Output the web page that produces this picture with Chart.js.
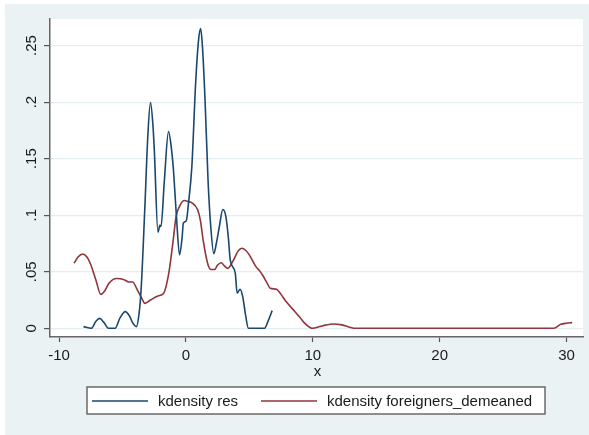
<!DOCTYPE html>
<html>
<head>
<meta charset="utf-8">
<script src="https://cdn.jsdelivr.net/npm/chart.js@4/dist/chart.umd.min.js"></script>
<style>
  html, body { margin: 0; padding: 0; background: #ffffff; }
  #wrap { width: 589px; height: 435px; }
</style>
</head>
<body>
<div id="wrap"><canvas id="kdens" width="589" height="435"></canvas></div>
<script>
// kdensity res
const resX = [-8.07,-7.45,-7.1,-6.8,-6.45,-6.1,-5.58,-5.2,-4.78,-4.45,-4.2,-3.9,-3.7,-3.53,-3.23,-3.0,-2.79,-2.6,-2.49,-2.2,-2.05,-1.96,-1.7,-1.37,-1.15,-1.0,-0.75,-0.5,-0.3,-0.2,0.03,0.2,0.47,0.77,1.0,1.16,1.3,1.51,1.75,1.96,2.2,2.4,2.64,2.91,3.15,3.35,3.5,3.89,4.04,4.27,4.48,4.7,4.93,6.2,6.5,6.8];
const resY = [0.0015,0,0.006,0.0088,0.005,0,0,0.009,0.0147,0.011,0.005,0.0015,0.012,0.034,0.108,0.17,0.1996,0.18,0.158,0.085,0.091,0.09,0.13,0.174,0.16,0.143,0.1,0.065,0.08,0.093,0.095,0.11,0.143,0.217,0.255,0.265,0.25,0.202,0.13,0.09,0.066,0.075,0.09,0.105,0.099,0.08,0.06,0.049,0.031,0.0345,0.028,0.012,0,0,0.007,0.0156];

// kdensity foreigners_demeaned
const forX = [-8.81,-8.5,-8.13,-7.8,-7.54,-7.1,-6.71,-6.4,-6.05,-5.46,-4.87,-4.5,-4.2,-3.83,-3.5,-3.23,-2.79,-2.2,-1.75,-1.5,-1.3,-1.0,-0.77,-0.45,-0.12,0.2,0.47,0.92,1.15,1.36,1.75,2.0,2.26,2.5,2.79,3.05,3.29,3.74,4.1,4.42,4.7,4.93,5.2,5.52,5.8,6.1,6.4,6.65,7.15,7.5,7.9,8.6,9.0,9.38,9.97,10.56,11.0,11.6,12.3,12.9,13.4,29.0,29.55,30.0,30.45];
const forY = [0.0575,0.063,0.0657,0.063,0.0575,0.043,0.030,0.033,0.040,0.044,0.043,0.041,0.041,0.034,0.027,0.022,0.025,0.0286,0.031,0.04,0.052,0.078,0.099,0.109,0.113,0.112,0.111,0.105,0.095,0.078,0.056,0.052,0.052,0.056,0.058,0.055,0.053,0.060,0.068,0.0708,0.069,0.066,0.061,0.0545,0.051,0.046,0.040,0.0354,0.0345,0.030,0.0236,0.0147,0.0095,0.0044,0,0.0015,0.0028,0.0038,0.003,0.001,0,0,0.0035,0.0045,0.005];

const xTicks = [-10, 0, 10, 20, 30];
const yTicks = [0, 0.05, 0.1, 0.15, 0.2, 0.25];
const yTickLabels = ["0", ".05", ".1", ".15", ".2", ".25"];
const seriesNames = ["kdensity res", "kdensity foreigners_demeaned"];
const xTitle = "x";

const BLUE = "#1a476f";
const RED = "#90353b";
const BG = "#eaf2f3";
const FONT = "'Liberation Sans', Arial, sans-serif";

function toPoints(xs, ys) {
    let pts = [];
    for (let i = 0; i < xs.length; i++) pts.push({x: xs[i], y: ys[i]});
    return pts;
}

// background, white plot region, rotated y labels, x title, legend box
const stataLook = {
    id: "stataLook",
    beforeDraw(chart) {
        const ctx = chart.ctx;
        const a = chart.chartArea;
        ctx.save();
        ctx.fillStyle = "#ffffff";
        ctx.fillRect(0, 0, chart.width, chart.height);
        ctx.fillStyle = BG;
        ctx.fillRect(5, 4, chart.width - 5, chart.height - 4);
        ctx.fillStyle = "#ffffff";
        ctx.fillRect(a.left, a.top, a.right - a.left, a.bottom - a.top);
        ctx.restore();
    },
    afterDraw(chart) {
        const ctx = chart.ctx;
        const ys = chart.scales.y;
        const a = chart.chartArea;
        ctx.save();
        ctx.fillStyle = "#1a1a1a";
        ctx.font = "15px " + FONT;
        ctx.textAlign = "center";
        ctx.textBaseline = "middle";
        for (let i = 0; i < yTicks.length; i++) {
            const py = ys.getPixelForValue(yTicks[i]);
            ctx.save();
            ctx.translate(32, py);
            ctx.rotate(-Math.PI / 2);
            ctx.fillText(yTickLabels[i], 0, 0);
            ctx.restore();
        }
        // x title
        ctx.fillText(xTitle, (a.left + a.right) / 2 + 1, 372);

        // legend
        ctx.fillStyle = "#ffffff";
        ctx.fillRect(87, 387, 458, 27);
        ctx.strokeStyle = "#6a6a6a";
        ctx.lineWidth = 1.5;
        ctx.strokeRect(87, 387, 458, 27);
        const ly = 401;
        const items = [
            {x0: 92, x1: 148, tx: 158, color: BLUE, label: seriesNames[0]},
            {x0: 261, x1: 317, tx: 327, color: RED, label: seriesNames[1]}
        ];
        items.forEach(function (it) {
            ctx.strokeStyle = it.color;
            ctx.lineWidth = 1.5;
            ctx.beginPath();
            ctx.moveTo(it.x0, ly);
            ctx.lineTo(it.x1, ly);
            ctx.stroke();
            ctx.fillStyle = "#1a1a1a";
            ctx.textAlign = "left";
            ctx.fillText(it.label, it.tx, ly + 0.5);
        });
        ctx.restore();
    }
};

new Chart(document.getElementById("kdens"), {
    type: "scatter",
    data: {
        datasets: [
            {
                label: seriesNames[0],
                data: toPoints(resX, resY),
                showLine: true,
                borderColor: BLUE,
                borderWidth: 1.6,
                pointRadius: 0,
                cubicInterpolationMode: "monotone"
            },
            {
                label: seriesNames[1],
                data: toPoints(forX, forY),
                showLine: true,
                borderColor: RED,
                borderWidth: 1.6,
                pointRadius: 0,
                cubicInterpolationMode: "monotone"
            }
        ]
    },
    options: {
        responsive: false,
        animation: false,
        layout: { padding: { top: 19, right: 6, left: 0, bottom: 0 } },
        plugins: {
            legend: { display: false },
            tooltip: { enabled: false }
        },
        scales: {
            x: {
                type: "linear",
                min: -10.71,
                max: 31.3,
                afterBuildTicks: function (scale) {
                    scale.ticks = xTicks.map(v => ({value: v}));
                },
                afterFit: function (scale) { scale.height = 98; },
                grid: {
                    drawOnChartArea: false,
                    drawTicks: true,
                    tickLength: 5,
                    tickColor: "#555555",
                    tickWidth: 1.2
                },
                border: { display: true, color: "#666666", width: 1.5 },
                ticks: {
                    color: "#1a1a1a",
                    font: { family: FONT, size: 15 },
                    padding: 5,
                    maxRotation: 0,
                    callback: v => String(v)
                }
            },
            y: {
                type: "linear",
                min: -0.0077,
                max: 0.2735,
                afterBuildTicks: function (scale) {
                    scale.ticks = yTicks.map(v => ({value: v}));
                },
                afterFit: function (scale) { scale.width = 50; },
                grid: {
                    color: "#e4eef0",
                    lineWidth: 1.2,
                    drawTicks: true,
                    tickLength: 6,
                    tickColor: "#555555",
                    tickWidth: 1.2
                },
                border: { display: true, color: "#666666", width: 1.5 },
                ticks: { display: false }
            }
        }
    },
    plugins: [stataLook]
});
</script>
</body>
</html>
